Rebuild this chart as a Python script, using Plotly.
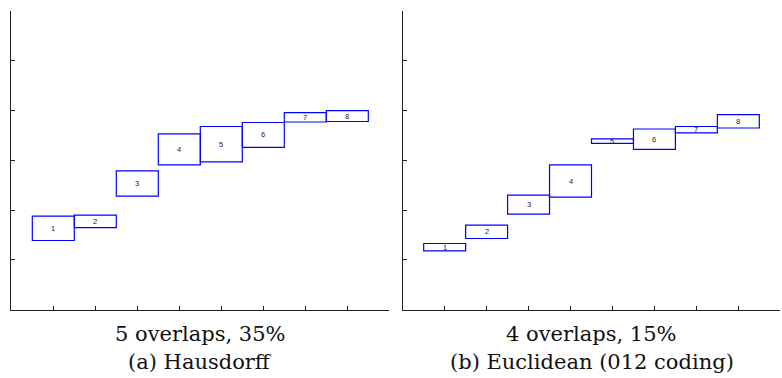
import plotly.graph_objects as go

# Data: interval boxes per condition (lower, upper) for positions 1..8
positions = [1, 2, 3, 4, 5, 6, 7, 8]
labels = ["1", "2", "3", "4", "5", "6", "7", "8"]

haus_low = [1.39, 1.65, 2.28, 2.91, 2.97, 3.26, 3.77, 3.78]
haus_high = [1.88, 1.90, 2.79, 3.53, 3.68, 3.76, 3.96, 4.00]

eucl_low = [1.18, 1.43, 1.92, 2.26, 3.34, 3.22, 3.55, 3.65]
eucl_high = [1.33, 1.70, 2.30, 2.91, 3.43, 3.63, 3.68, 3.92]

captions = [("5 overlaps, 35%", "(a) Hausdorff"),
            ("4 overlaps, 15%", "(b) Euclidean (012 coding)")]

BOX_W = 1.0
BLUE = "#0000ff"

fig = go.Figure()
# invisible traces to instantiate axes
fig.add_trace(go.Scatter(x=[0], y=[0], mode="markers", marker=dict(opacity=0),
                         xaxis="x", yaxis="y", showlegend=False, hoverinfo="skip"))
fig.add_trace(go.Scatter(x=[0], y=[0], mode="markers", marker=dict(opacity=0),
                         xaxis="x2", yaxis="y2", showlegend=False, hoverinfo="skip"))

shapes = []
annotations = []
for (xr, yr, lows, highs) in [("x", "y", haus_low, haus_high),
                              ("x2", "y2", eucl_low, eucl_high)]:
    for p, lab, lo, hi in zip(positions, labels, lows, highs):
        shapes.append(dict(type="rect", xref=xr, yref=yr,
                           x0=p - BOX_W / 2, x1=p + BOX_W / 2, y0=lo, y1=hi,
                           line=dict(color=BLUE, width=1.2), fillcolor="rgba(0,0,0,0)"))
        annotations.append(dict(x=p, y=(lo + hi) / 2, xref=xr, yref=yr, text=lab,
                                showarrow=False, font=dict(size=7.5, color="#222222",
                                                           family="Liberation Sans")))

centers = [200.3 / 782, 591.6 / 782]
for cx, (l1, l2) in zip(centers, captions):
    annotations.append(dict(x=cx, y=1 - 334 / 378, xref="paper", yref="paper", text=l1,
                            showarrow=False, xanchor="center", yanchor="middle",
                            font=dict(size=21, color="#111111", family="DejaVu Serif")))
    annotations.append(dict(x=cx, y=1 - 362 / 378, xref="paper", yref="paper", text=l2,
                            showarrow=False, xanchor="center", yanchor="middle",
                            font=dict(size=21, color="#111111", family="DejaVu Serif")))

axis_common = dict(range=[0, 9], tickvals=list(range(0, 10)), ticks="inside", ticklen=4,
                   tickcolor="#222222", showticklabels=False, showgrid=False,
                   zeroline=False, showline=True, linecolor="#222222", linewidth=1.2,
                   fixedrange=True)
yaxis_common = dict(range=[0, 6], tickvals=list(range(0, 7)), ticks="inside", ticklen=4,
                    tickcolor="#222222", showticklabels=False, showgrid=False,
                    zeroline=False, showline=True, linecolor="#222222", linewidth=1.2,
                    fixedrange=True)

ydom = [(378 - 309.7) / 378, (378 - 11) / 378]
fig.update_layout(
    width=782, height=378,
    margin=dict(l=0, r=0, t=0, b=0),
    paper_bgcolor="white", plot_bgcolor="white",
    xaxis=dict(domain=[11.3 / 782, 389.3 / 782], anchor="y", **axis_common),
    yaxis=dict(domain=ydom, anchor="x", **yaxis_common),
    xaxis2=dict(domain=[402.7 / 782, 780.3 / 782], anchor="y2", **axis_common),
    yaxis2=dict(domain=ydom, anchor="x2", **yaxis_common),
    shapes=shapes,
    annotations=annotations,
    showlegend=False,
)

fig.write_html("out.html", config={"displayModeBar": False},
               post_script="document.body.style.margin='0';document.body.style.overflow='hidden';")
